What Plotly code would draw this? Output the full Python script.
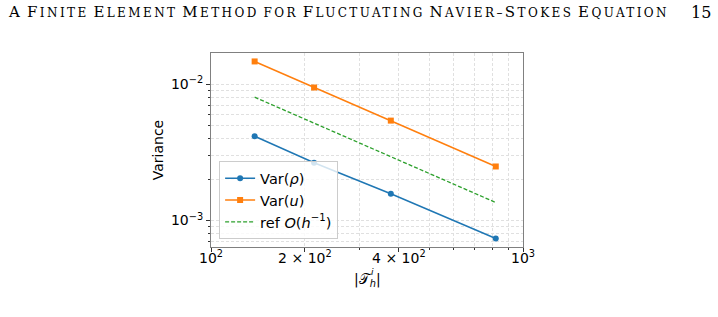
import plotly.graph_objects as go

# ---- data ----
mesh_sizes = [138, 214, 377, 818]
var_rho = [0.00415, 0.00265, 0.00157, 0.000738]
var_u = [0.01466, 0.00944, 0.0054, 0.00249]
ref_line = [0.00802, 0.00517, 0.00294, 0.001355]

x_tickvals = [100, 200, 400, 1000]
x_ticktext = ["10<sup>2</sup>", "2 × 10<sup>2</sup>", "4 × 10<sup>2</sup>", "10<sup>3</sup>"]
x_minor = [300, 500, 600, 700, 800, 900]
y_tickvals = [0.001, 0.01]
y_ticktext = ["10<sup>−3</sup>", "10<sup>−2</sup>"]
y_minor = [0.0007, 0.0008, 0.0009, 0.002, 0.003, 0.004, 0.005, 0.006, 0.007, 0.008, 0.009]

header_title = "A Finite Element Method for Fluctuating Navier–Stokes Equation"
page_number = "15"

W, H = 718, 317
L, R, T, B = 211, 195, 53, 70
FONT = "DejaVu Sans"
GRID = "#e0e0e0"
GDASH = "3px,2px"

fig = go.Figure()
fig.add_trace(go.Scatter(
    x=mesh_sizes, y=var_rho, mode="lines+markers", name="Var(<i>ρ</i>)",
    line=dict(color="#1f77b4", width=1.5), marker=dict(symbol="circle", size=6, color="#1f77b4")))
fig.add_trace(go.Scatter(
    x=mesh_sizes, y=var_u, mode="lines+markers", name="Var(<i>u</i>)",
    line=dict(color="#ff7f0e", width=1.5), marker=dict(symbol="square", size=6, color="#ff7f0e")))
fig.add_trace(go.Scatter(
    x=mesh_sizes, y=ref_line, mode="lines", name="ref <i>O</i>(<i>h</i><sup>−1</sup>)",
    line=dict(color="#2ca02c", width=1.3, dash="4px,2px")))

axis_common = dict(
    type="log", showline=True, linecolor="#808080", linewidth=1, mirror=True,
    showgrid=True, gridcolor=GRID, griddash=GDASH, gridwidth=1,
    ticks="outside", ticklen=4, tickcolor="#333", zeroline=False,
    tickfont=dict(family=FONT, size=14, color="black"),
)

fig.update_xaxes(
    **axis_common, range=[2, 3], tickmode="array", tickvals=x_tickvals, ticktext=x_ticktext,
    ticklabelstandoff=-6,
    minor=dict(tickmode="array", tickvals=x_minor, ticks="outside", ticklen=2, tickcolor="#333",
               showgrid=True, gridcolor=GRID, griddash=GDASH),
)
fig.update_yaxes(
    **axis_common, range=[-3.194, -1.772], tickmode="array", tickvals=y_tickvals, ticktext=y_ticktext,
    minor=dict(tickmode="array", tickvals=y_minor, ticks="outside", ticklen=2, tickcolor="#333",
               showgrid=True, gridcolor=GRID, griddash=GDASH),
    title=dict(text="Variance", font=dict(family=FONT, size=14, color="black"), standoff=4),
)

def px_to_paper_x(px):
    return (px - L) / (W - L - R)

def px_to_paper_y(py):
    return (H - B - py) / (H - T - B)

# x axis label |T_h^i|
fig.add_annotation(
    text="|𝒯<sub><i>h</i></sub>|", xref="paper", yref="paper",
    x=px_to_paper_x(367), y=px_to_paper_y(280), showarrow=False,
    font=dict(family=FONT, size=14, color="black"), xanchor="center", yanchor="middle")
fig.add_annotation(
    text="<i>i</i>", xref="paper", yref="paper",
    x=px_to_paper_x(372.5), y=px_to_paper_y(272), showarrow=False,
    font=dict(family=FONT, size=9, color="black"), xanchor="center", yanchor="middle")

# running header in small caps
def small_caps(s, big=15, small=12, spacing=2.4):
    out = []
    for word in s.split(" "):
        parts = []
        for ch in word:
            if ch.isupper():
                parts.append(f'<span style="font-size:{big}px;letter-spacing:{spacing}px">{ch}</span>')
            else:
                parts.append(f'<span style="font-size:{small}px;letter-spacing:{spacing}px">{ch.upper()}</span>')
        out.append("".join(parts))
    return " ".join(out)

fig.add_annotation(
    text=small_caps(header_title), xref="paper", yref="paper",
    x=px_to_paper_x(6), y=px_to_paper_y(12), showarrow=False,
    font=dict(family="DejaVu Serif", size=15, color="black"), xanchor="left", yanchor="middle")
fig.add_annotation(
    text=page_number, xref="paper", yref="paper",
    x=px_to_paper_x(713), y=px_to_paper_y(12), showarrow=False,
    font=dict(family="DejaVu Serif", size=16, color="black"), xanchor="right", yanchor="middle")

fig.update_layout(
    width=W, height=H, margin=dict(l=L, r=R, t=T, b=B),
    paper_bgcolor="white", plot_bgcolor="white",
    showlegend=True,
    legend=dict(x=0.026, y=0.04, xanchor="left", yanchor="bottom",
                bgcolor="rgba(255,255,255,0.8)", bordercolor="#cccccc", borderwidth=1,
                font=dict(family=FONT, size=14.5, color="black"), tracegroupgap=0,
                itemwidth=30),
)

fig.write_html("out.html")
